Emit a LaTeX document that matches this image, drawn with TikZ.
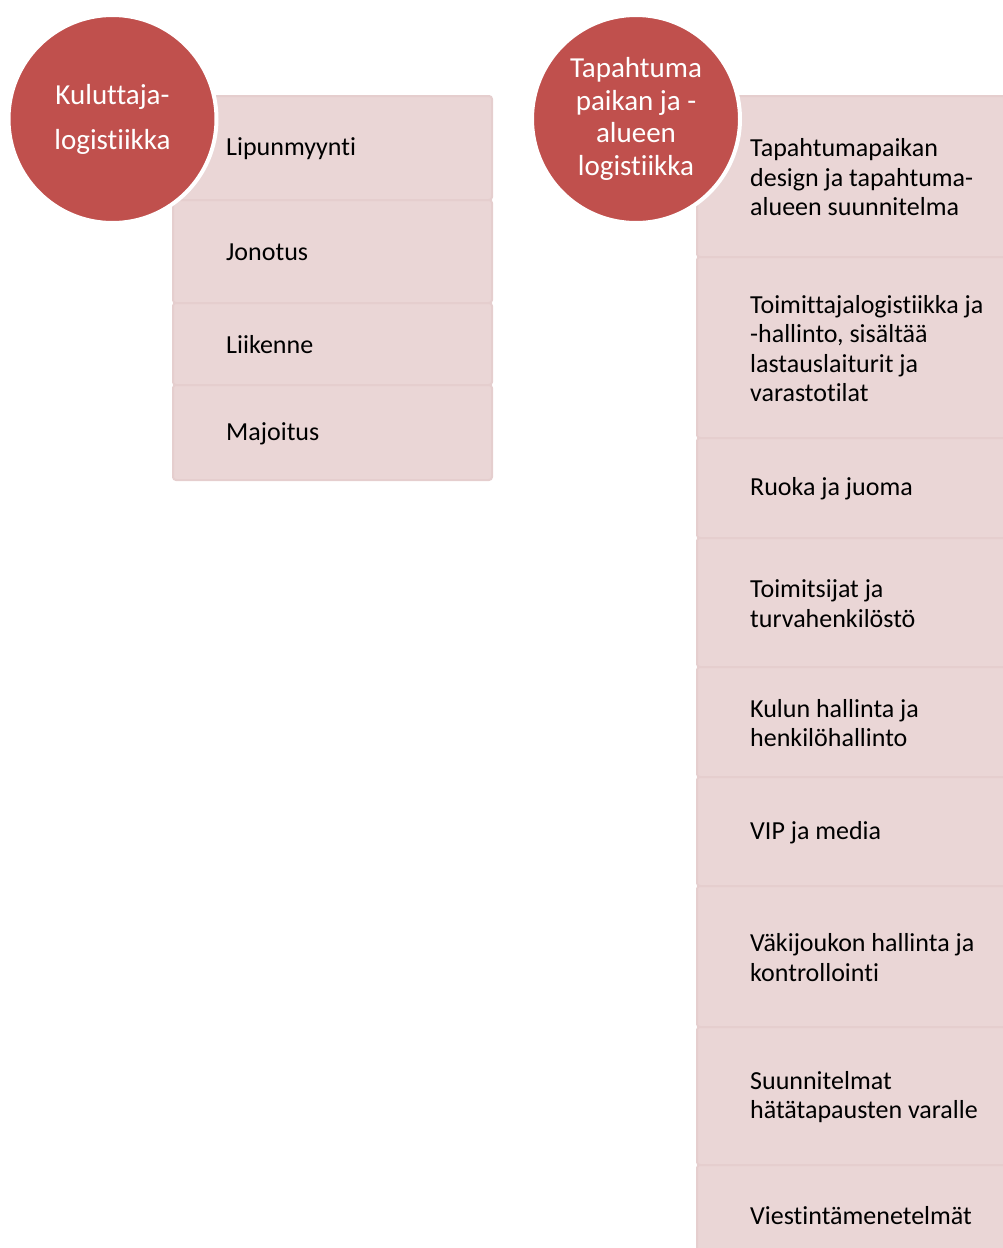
\documentclass[tikz,border=0pt]{standalone}
\usepackage{fontspec}
\setmainfont{Carlito}[Ligatures=NoCommon]
\usetikzlibrary{positioning}
\definecolor{HubRed}{HTML}{C0504D}
\definecolor{RowFill}{RGB}{234,214,214}
\definecolor{RowEdge}{RGB}{229,206,206}

\begin{document}
\begin{tikzpicture}[
  x=1pt, y=1pt,
  node distance=0pt,
  rowbox/.style={draw=RowEdge, fill=RowFill, rounded corners=3pt, line width=2pt, outer sep=0pt, inner sep=0pt},
  leftrow/.style={rowbox, minimum width=319pt},
  rightrow/.style={rowbox, minimum width=316pt},
  rowtext/.style={font=\fontsize{26}{29.5}\selectfont, align=left, inner sep=0pt, anchor=west, yshift=-1pt},
  hub/.style={circle, draw=white, fill=HubRed, line width=4pt, minimum size=208pt, inner sep=0pt, text=white, align=center, font=\fontsize{29}{32.5}\selectfont}
]
\useasboundingbox (0,0) rectangle (1003,-1248);

% Kuluttajalogistiikka
\node[leftrow, minimum height=104pt, anchor=north west] (k1) at (173,-96) {};
\node[leftrow, minimum height=103pt, below=of k1] (k2) {};
\node[leftrow, minimum height=82pt, below=of k2] (k3) {};
\node[leftrow, minimum height=95pt, below=of k3] (k4) {};
\node[rowtext, right=53pt of k1.west] (k1t) {Lipunmyynti};
\node[rowtext, right=53pt of k2.west] (k2t) {Jonotus};
\node[rowtext, right=53pt of k3.west] (k3t) {Liikenne};
\node[rowtext, right=53pt of k4.west] (k4t) {Majoitus};

% Tapahtumapaikan ja -alueen logistiikka
\node[rightrow, minimum height=161pt, anchor=north west] (t1) at (697,-96) {};
\node[rightrow, minimum height=181pt, below=of t1] (t2) {};
\node[rightrow, minimum height=100pt, below=of t2] (t3) {};
\node[rightrow, minimum height=129pt, below=of t3] (t4) {};
\node[rightrow, minimum height=110pt, below=of t4] (t5) {};
\node[rightrow, minimum height=109pt, below=of t5] (t6) {};
\node[rightrow, minimum height=141pt, below=of t6] (t7) {};
\node[rightrow, minimum height=138pt, below=of t7] (t8) {};
\node[rightrow, minimum height=100pt, below=of t8] (t9) {};
\node[rowtext, right=53pt of t1.west] (t1t) {Tapahtumapaikan\\design ja tapahtuma-\\alueen suunnitelma};
\node[rowtext, right=53pt of t2.west] (t2t) {Toimittajalogistiikka ja\\-hallinto, sisältää\\lastauslaiturit ja\\varastotilat};
\node[rowtext, right=53pt of t3.west] (t3t) {Ruoka ja juoma};
\node[rowtext, right=53pt of t4.west] (t4t) {Toimitsijat ja\\turvahenkilöstö};
\node[rowtext, right=53pt of t5.west] (t5t) {Kulun hallinta ja\\henkilöhallinto};
\node[rowtext, right=53pt of t6.west] (t6t) {VIP ja media};
\node[rowtext, right=53pt of t7.west] (t7t) {Väkijoukon hallinta ja\\kontrollointi};
\node[rowtext, right=53pt of t8.west] (t8t) {Suunnitelmat\\hätätapausten varalle};
\node[rowtext, right=53pt of t9.west] (t9t) {Viestintämenetelmät};

% circles on top
\node[hub, font=\fontsize{29}{45}\selectfont] (kl) at (112.5,-119) {Kuluttaja-\\logistiikka};
\node[hub] (tp) at (636,-119) {Tapahtuma\\paikan ja -\\alueen\\logistiikka};
\end{tikzpicture}
\end{document}
